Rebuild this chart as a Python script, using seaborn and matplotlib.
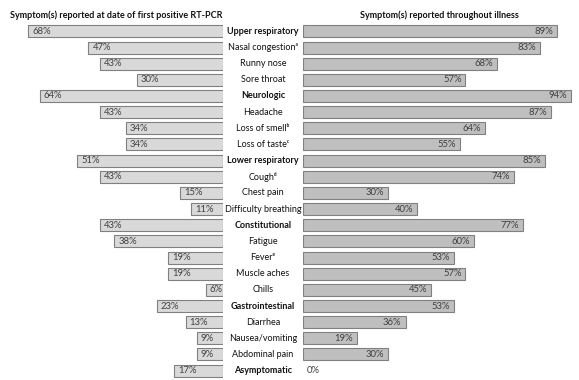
import matplotlib
matplotlib.use("Agg")
import matplotlib.pyplot as plt
import matplotlib.transforms as mtransforms
import seaborn as sns
import pandas as pd

# Данные
labels = ["Upper respiratory", "Nasal congestionᵃ", "Runny nose", "Sore throat",
          "Neurologic", "Headache", "Loss of smellᵇ", "Loss of tasteᶜ",
          "Lower respiratory", "Coughᵈ", "Chest pain", "Difficulty breathing",
          "Constitutional", "Fatigue", "Feverᵉ", "Muscle aches", "Chills",
          "Gastrointestinal", "Diarrhea", "Nausea/vomiting", "Abdominal pain",
          "Asymptomatic"]
at_pcr = [68, 47, 43, 30, 64, 43, 34, 34, 51, 43, 15, 11, 43, 38, 19, 19, 6,
          23, 13, 9, 9, 17]
throughout = [89, 83, 68, 57, 94, 87, 64, 55, 85, 74, 30, 40, 77, 60, 53, 57, 45,
              53, 36, 19, 30, 0]
bold_rows = ["Upper respiratory", "Neurologic", "Lower respiratory",
             "Constitutional", "Gastrointestinal", "Asymptomatic"]

df = pd.DataFrame({"Symptom": labels, "pcr": at_pcr, "ill": throughout})

sns.set_style("white")
plt.rcParams["font.family"] = ["Lato", "DejaVu Sans"]

W, H = 579, 380
fig = plt.figure(figsize=(W / 100, H / 100), dpi=100)
px = 2.856  # пикселей на процент
top, bot = 23.3, 378.7
n = len(labels)

axl = fig.add_axes([0, (H - bot) / H, 222.7 / W, (bot - top) / H])
axr = fig.add_axes([302.7 / W, (H - bot) / H, (W - 302.7) / W, (bot - top) / H])

sns.barplot(data=df, x="pcr", y="Symptom", orient="h", ax=axl, color="#d9d9d9",
            saturation=1, edgecolor="#808080", linewidth=0.8, width=0.74)
sns.barplot(data=df, x="ill", y="Symptom", orient="h", ax=axr, color="#bfbfbf",
            saturation=1, edgecolor="#808080", linewidth=0.8, width=0.74)

# у нулевого столбца не рисуем контур
for p in axr.patches:
    if p.get_width() == 0:
        p.set_visible(False)

axl.set_xlim(222.7 / px, 0)
axr.set_xlim(0, (W - 302.7) / px)
for ax in (axl, axr):
    ax.set_ylim(n - 0.5, -0.5)
    ax.set_axis_off()

pct_color = "#404040"
for i, v in enumerate(at_pcr):
    axl.text(v - 4 / px, i, f"{v}%", ha="left", va="center", fontsize=6.8,
             color=pct_color)
for i, v in enumerate(throughout):
    if v == 0:
        axr.text(4 / px, i, "0%", ha="left", va="center", fontsize=6.8,
                 color=pct_color)
    else:
        axr.text(v - 4 / px, i, f"{v}%", ha="right", va="center", fontsize=6.8,
                 color=pct_color)

# подписи симптомов по центру
tr = mtransforms.blended_transform_factory(fig.transFigure, axl.transData)
for i, lab in enumerate(labels):
    fig.text(263 / W, i, lab, transform=tr, ha="center", va="center",
             fontsize=6.5, color="#111111",
             fontweight="bold" if lab in bold_rows else "normal")

fig.text(116 / W, 1 - 15.5 / H, "Symptom(s) reported at date of first positive RT-PCR",
         ha="center", va="center", fontsize=6.5, fontweight="bold", color="#111111")
fig.text(439 / W, 1 - 15.5 / H, "Symptom(s) reported throughout illness",
         ha="center", va="center", fontsize=6.5, fontweight="bold", color="#111111")

fig.savefig("out.png", dpi=100)
